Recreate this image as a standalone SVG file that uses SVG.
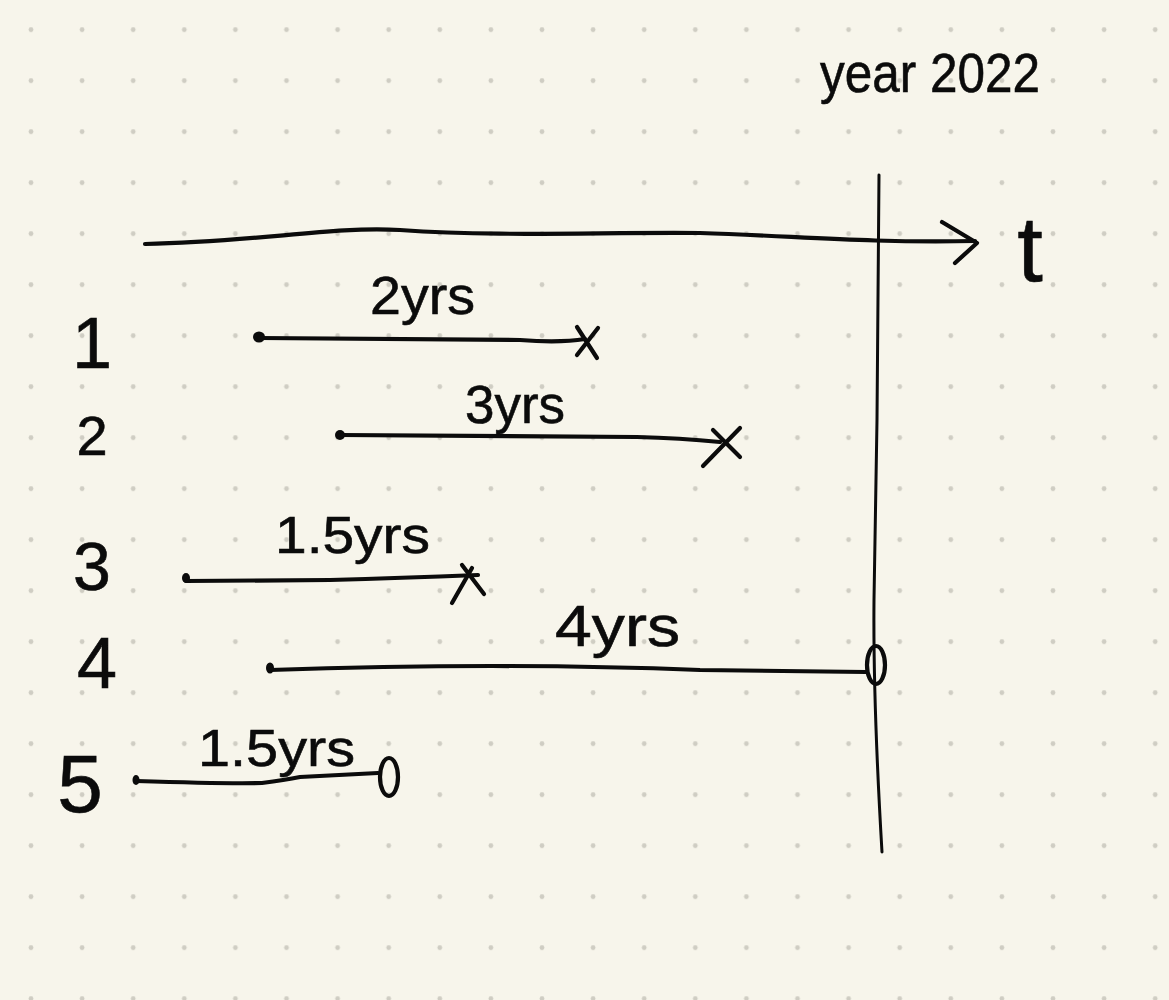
<svg xmlns="http://www.w3.org/2000/svg" width="1169" height="1000" viewBox="0 0 1169 1000">
<style>
.ink{fill:none;stroke:#0b0b0b;stroke-width:4.2;stroke-linecap:round;stroke-linejoin:round}
.thin{fill:none;stroke:#0b0b0b;stroke-width:3;stroke-linecap:round;stroke-linejoin:round}
.dot{fill:#0b0b0b}
.hw{font-family:"Liberation Sans Narrow","Liberation Sans",Arial,sans-serif;fill:#0b0b0b;stroke:#0b0b0b;stroke-width:0.6}
</style>
<defs>
<pattern id="grid" patternUnits="userSpaceOnUse" x="5.45" y="4.2" width="51.1" height="51">
<circle cx="25.55" cy="25.5" r="2.4" fill="#cfcdc3"/>
</pattern>
</defs>
<rect width="1169" height="1000" fill="#f7f5eb"/>
<rect width="1169" height="1000" fill="url(#grid)"/>

<g id="connectors">
<path class="ink" d="M145,244 C260,242 330,226 400,230 C500,237 600,232 700,233 C800,236 860,243 975,241"/>
<path class="ink" d="M942,222 L977,243 L955,263"/>
<path class="thin" d="M879,175 L877,420 L874,600 Q873,700 882,852"/>
</g>

<g id="axis-label">
<text class="hw" x="1030" y="281" font-size="92" text-anchor="middle">t</text>
<text class="hw" x="820" y="92" font-size="56" textLength="220" lengthAdjust="spacingAndGlyphs">year 2022</text>
</g>

<g id="row1">
<text class="hw" x="92" y="368" font-size="72" text-anchor="middle">1</text>
<ellipse class="dot" cx="259" cy="337" rx="6" ry="5.5"/>
<path class="ink" d="M259,338 L520,340 Q560,343 585,339"/>
<path class="ink" d="M577,327 L597,358 M598,328 L577,355"/>
<text class="hw" x="370" y="314" font-size="54" textLength="105" lengthAdjust="spacingAndGlyphs">2yrs</text>
</g>

<g id="row2">
<text class="hw" x="92" y="455" font-size="56" text-anchor="middle">2</text>
<circle class="dot" cx="340" cy="435" r="5"/>
<path class="ink" d="M340,435 L637,437 Q680,438 720,442"/>
<path class="ink" d="M713,430 L740,457 M740,428 L703,466"/>
<text class="hw" x="465" y="423" font-size="54" textLength="100" lengthAdjust="spacingAndGlyphs">3yrs</text>
</g>

<g id="row3">
<text class="hw" x="92" y="590" font-size="68" text-anchor="middle">3</text>
<ellipse class="dot" cx="186" cy="578" rx="4" ry="5"/>
<path class="ink" d="M186,581 L330,580 Q400,578 478,575"/>
<path class="ink" d="M462,565 L484,594 M472,568 L452,603"/>
<text class="hw" x="275" y="553" font-size="52" textLength="155" lengthAdjust="spacingAndGlyphs">1.5yrs</text>
</g>

<g id="row4">
<text class="hw" x="97" y="688" font-size="72" text-anchor="middle">4</text>
<ellipse class="dot" cx="270" cy="668" rx="4" ry="5.5"/>
<path class="ink" d="M270,670 Q500,662 700,670 L866,672"/>
<ellipse class="ink" cx="876" cy="665" rx="9" ry="19"/>
<text class="hw" x="555" y="646" font-size="58" textLength="125" lengthAdjust="spacingAndGlyphs">4yrs</text>
</g>

<g id="row5">
<text class="hw" x="80" y="812" font-size="82" text-anchor="middle">5</text>
<ellipse class="dot" cx="136" cy="780" rx="3.5" ry="5"/>
<path class="ink" d="M136,781 Q230,784 262,783 Q285,780 300,777 L378,773"/>
<ellipse class="ink" cx="389" cy="777" rx="9" ry="19"/>
<text class="hw" x="198" y="766" font-size="52" textLength="157" lengthAdjust="spacingAndGlyphs">1.5yrs</text>
</g>
</svg>
